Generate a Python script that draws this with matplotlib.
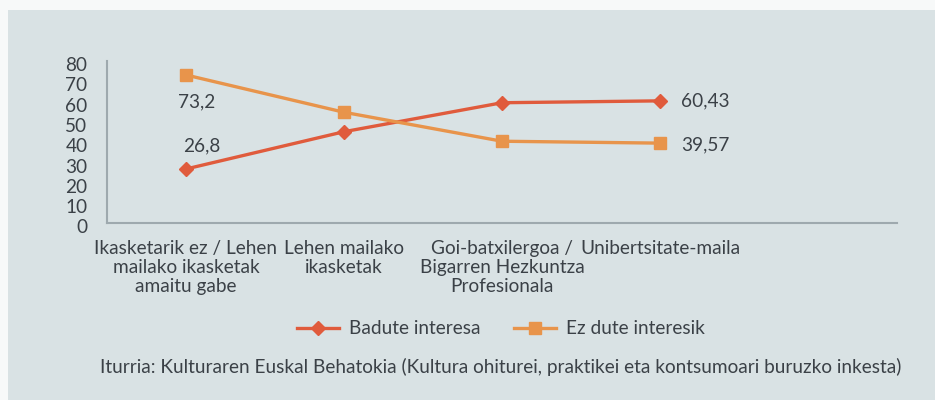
import matplotlib
matplotlib.use("Agg")
import matplotlib.pyplot as plt
from matplotlib.patches import Rectangle
from matplotlib.transforms import ScaledTranslation

plt.rcParams['font.family'] = ['Lato', 'DejaVu Sans']

categories = ["Ikasketarik ez / Lehen\nmailako ikasketak\namaitu gabe",
              "Lehen mailako\nikasketak",
              "Goi-batxilergoa /\nBigarren Hezkuntza\nProfesionala",
              "Unibertsitate-maila"]
badute = [26.8, 45.2, 59.5, 60.43]
ez_dute = [73.2, 54.8, 40.5, 39.57]
yticks = [0, 10, 20, 30, 40, 50, 60, 70, 80]

red = "#e05b3c"
orange = "#e8944b"
txt = "#3b4147"
panel = "#d9e2e4"
fs = 13.7

fig = plt.figure(figsize=(9.35, 4.0), dpi=100, facecolor="#f7f9f9")
fig.patches.append(Rectangle((8 / 935, 0), 1, 1 - 10 / 400, transform=fig.transFigure,
                             facecolor=panel, edgecolor="none", zorder=-5))

ax = fig.add_axes([107 / 935, 1 - 223.3 / 400, (897 - 107) / 935, 162.1 / 400])
ax.set_facecolor("none")
x = list(range(len(categories)))
l1, = ax.plot(x, badute, color=red, lw=2.4, marker="D", markersize=7.5, label="Badute interesa")
l2, = ax.plot(x, ez_dute, color=orange, lw=2.4, marker="s", markersize=9, label="Ez dute interesik")

ax.set_xlim(-0.5, 4.5)
ax.set_ylim(0, 80)
ax.set_yticks(yticks)
ax.set_xticks(x)
ax.set_xticklabels(categories, fontsize=fs, color=txt, linespacing=1.15)
ax.tick_params(axis="both", length=0, colors=txt, labelsize=fs)
ax.tick_params(axis="y", pad=14)
ax.tick_params(axis="x", pad=12)
shift = ScaledTranslation(0, -3 / 100, fig.dpi_scale_trans)
for lab in ax.get_yticklabels():
    lab.set_transform(lab.get_transform() + shift)
for s in ["top", "right"]:
    ax.spines[s].set_visible(False)
for s in ["left", "bottom"]:
    ax.spines[s].set_color("#9ea9ae")
    ax.spines[s].set_linewidth(1.5)

ax.annotate("73,2", (x[0], ez_dute[0]), xytext=(8, -19.5), textcoords="offset points",
            ha="center", va="center", fontsize=fs, color=txt)
ax.annotate("26,8", (x[0], badute[0]), xytext=(11, 17), textcoords="offset points",
            ha="center", va="center", fontsize=fs, color=txt)
ax.annotate("60,43", (x[3], badute[3]), xytext=(15, 0), textcoords="offset points",
            ha="left", va="center", fontsize=fs, color=txt)
ax.annotate("39,57", (x[3], ez_dute[3]), xytext=(15, -1), textcoords="offset points",
            ha="left", va="center", fontsize=fs, color=txt)

fig.legend(handles=[l1, l2], loc="center", bbox_to_anchor=(501 / 935, 1 - 329 / 400),
           ncol=2, frameon=False, fontsize=fs, labelcolor=txt, handlelength=2.2,
           handletextpad=0.5, columnspacing=1.8)

fig.text(501 / 935, 1 - 367 / 400,
         "Iturria: Kulturaren Euskal Behatokia (Kultura ohiturei, praktikei eta kontsumoari buruzko inkesta)",
         ha="center", va="center", fontsize=fs, color=txt)

fig.savefig("out.png", dpi=100, facecolor=fig.get_facecolor())
